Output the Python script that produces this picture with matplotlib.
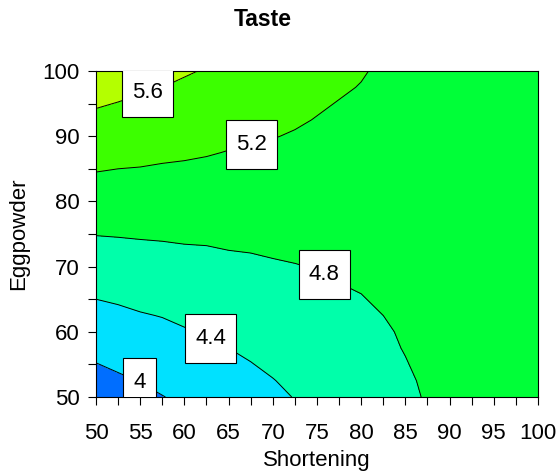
import numpy as np
import matplotlib
matplotlib.use("Agg")
import matplotlib.pyplot as plt
from matplotlib.ticker import MultipleLocator

plt.rcParams['font.family'] = ['Liberation Sans', 'DejaVu Sans']

# Design factors, grid nodes every 2.5 units
shortening = [50, 52.5, 55, 57.5, 60, 62.5, 65, 67.5, 70, 72.5, 75,
              77.5, 80, 82.5, 85, 87.5, 90, 92.5, 95, 97.5, 100]
eggpowder = [50, 52.5, 55, 57.5, 60, 62.5, 65, 67.5, 70, 72.5, 75,
             77.5, 80, 82.5, 85, 87.5, 90, 92.5, 95, 97.5, 100]

# Predicted taste score (x100), one row per eggpowder level, columns follow shortening
taste_x100 = [
    [379, 385, 392, 399, 406, 413, 420, 427, 434, 441, 448, 455, 462, 469, 475, 482, 489, 496, 503, 510, 517],
    [389, 395, 401, 408, 414, 420, 427, 433, 439, 446, 452, 458, 465, 471, 477, 483, 490, 496, 502, 509, 515],
    [399, 405, 410, 416, 422, 428, 433, 439, 445, 451, 456, 462, 468, 473, 479, 485, 490, 496, 502, 507, 513],
    [409, 414, 419, 425, 430, 435, 440, 445, 450, 455, 460, 465, 471, 476, 481, 486, 491, 496, 501, 506, 511],
    [419, 424, 429, 433, 438, 442, 447, 451, 456, 460, 465, 469, 474, 478, 482, 487, 491, 496, 500, 505, 509],
    [430, 434, 438, 441, 445, 449, 453, 457, 461, 465, 469, 473, 476, 480, 484, 488, 492, 496, 500, 503, 507],
    [440, 443, 447, 450, 453, 456, 460, 463, 466, 470, 473, 476, 479, 483, 486, 489, 493, 496, 499, 502, 505],
    [450, 453, 456, 458, 461, 464, 466, 469, 472, 474, 477, 480, 482, 485, 488, 490, 493, 496, 498, 501, 504],
    [460, 463, 465, 467, 469, 471, 473, 475, 477, 479, 481, 483, 485, 487, 490, 492, 494, 496, 498, 500, 502],
    [471, 472, 474, 475, 477, 478, 480, 481, 483, 484, 486, 487, 488, 490, 491, 493, 494, 496, 497, 498, 500],
    [481, 482, 483, 484, 485, 485, 486, 487, 488, 489, 490, 491, 491, 492, 493, 494, 495, 496, 496, 497, 498],
    [491, 491, 492, 492, 492, 493, 493, 493, 493, 494, 494, 494, 494, 495, 495, 495, 495, 496, 496, 496, 496],
    [501, 501, 501, 501, 500, 500, 500, 499, 499, 498, 498, 498, 497, 497, 497, 496, 496, 496, 495, 495, 494],
    [512, 511, 510, 509, 508, 507, 506, 505, 504, 503, 502, 501, 500, 499, 498, 497, 497, 496, 495, 494, 493],
    [522, 520, 519, 517, 516, 514, 513, 511, 510, 508, 507, 505, 503, 502, 500, 499, 497, 495, 494, 492, 491],
    [532, 530, 528, 526, 524, 522, 519, 517, 515, 513, 511, 509, 506, 504, 502, 500, 498, 495, 493, 491, 489],
    [543, 540, 537, 534, 532, 529, 526, 523, 521, 518, 515, 512, 509, 507, 504, 501, 498, 495, 493, 490, 487],
    [553, 549, 546, 543, 539, 536, 533, 529, 526, 523, 519, 516, 512, 509, 506, 502, 499, 495, 492, 489, 485],
    [563, 559, 555, 551, 547, 543, 539, 535, 531, 527, 523, 519, 515, 511, 507, 503, 499, 495, 491, 487, 483],
    [573, 569, 564, 560, 555, 551, 546, 541, 537, 532, 528, 523, 519, 514, 509, 505, 500, 495, 491, 486, 482],
    [584, 579, 573, 568, 563, 558, 553, 548, 542, 537, 532, 527, 522, 516, 511, 506, 501, 495, 490, 485, 481],
]

contour_levels = [4.0, 4.4, 4.8, 5.2, 5.6]
band_colors = ['#006EFF', '#00E1FF', '#00FFAA', '#00FF38', '#3CFF00', '#B4FF00']
label_spots = [(55.8, 96.8), (67.6, 88.7), (75.8, 68.7), (63.0, 59.0), (54.9, 52.2)]

X, Y = np.meshgrid(shortening, eggpowder)
Z = np.array(taste_x100) / 100

fig = plt.figure(figsize=(5.59, 4.75), dpi=100)
ax = fig.add_axes([0.1717, 0.1642, 0.7907, 0.6863])

# filled bands between the contour levels, then the black contour lines
fill_levels = [Z.min() - 1] + contour_levels + [Z.max() + 1]
ax.contourf(X, Y, Z, levels=fill_levels, colors=band_colors)
cs = ax.contour(X, Y, Z, levels=contour_levels, colors='black', linewidths=0.7)

# boxed, horizontal contour labels
labels = ax.clabel(cs, fmt=lambda v: f'{v:g}', manual=label_spots, inline=False, fontsize=16)
for t in labels:
    t.set_rotation(0)
    t.set_color('black')
    t.set_bbox(dict(boxstyle='square,pad=0.45', mutation_aspect=1.4,
                    facecolor='white', edgecolor='black', linewidth=0.8))
    t.set_zorder(5)

ax.set_xlim(50, 100)
ax.set_ylim(50, 100)
ax.xaxis.set_major_locator(MultipleLocator(5))
ax.xaxis.set_minor_locator(MultipleLocator(2.5))
ax.yaxis.set_major_locator(MultipleLocator(10))
ax.yaxis.set_minor_locator(MultipleLocator(5))
ax.tick_params(which='both', direction='out', length=6, width=0.8, top=False, right=False)
ax.tick_params(axis='x', labelsize=16, pad=13)
ax.tick_params(axis='y', labelsize=16, pad=6)
for s in ax.spines.values():
    s.set_linewidth(0.8)

ax.set_xlabel('Shortening', fontsize=16, labelpad=4)
ax.set_ylabel('Eggpowder', fontsize=16, labelpad=9)
fig.text(0.4705, 1 - 20 / 475, 'Taste', ha='center', va='center', fontsize=16.5, fontweight='bold')

fig.savefig('out.png', dpi=100)
